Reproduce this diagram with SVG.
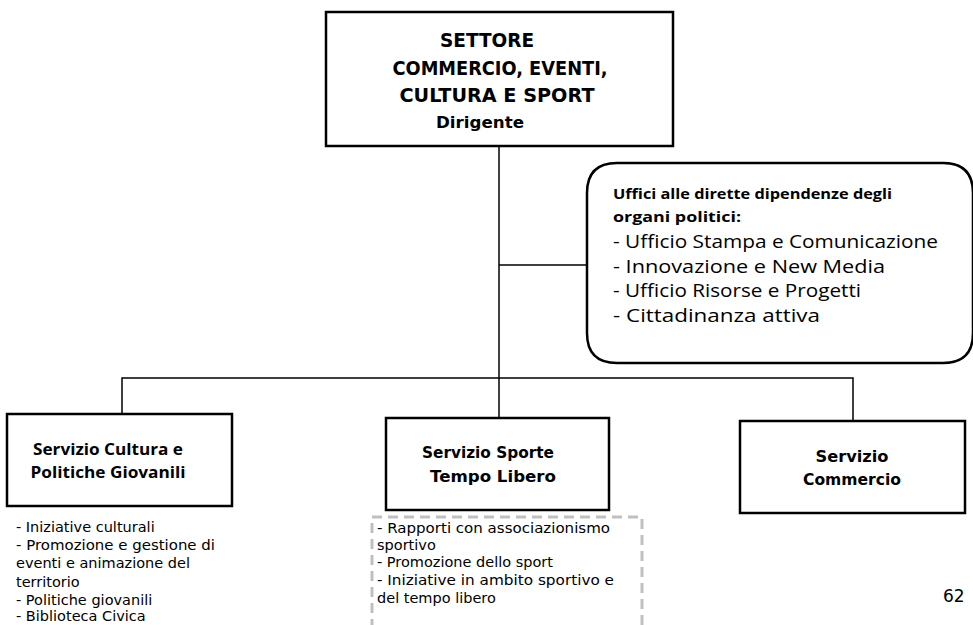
<svg xmlns="http://www.w3.org/2000/svg" width="973" height="625" viewBox="0 0 973 625">
<style>
.box{fill:#fff;stroke:#000;stroke-width:2.5}
.ln{fill:none;stroke:#000;stroke-width:1.5}
.t{font-family:"DejaVu Sans","Liberation Sans",sans-serif;fill:#000}
.tb{font-family:"DejaVu Sans","Liberation Sans",sans-serif;font-weight:bold;fill:#000}
.tc{font-family:"Open Sans","Noto Sans",sans-serif;fill:#000}
.tcb{font-family:"Open Sans","Noto Sans",sans-serif;font-weight:bold;fill:#000}
.list{font-family:"DejaVu Sans","Liberation Sans",sans-serif;font-size:14.5px;fill:#000}
</style>
<g id="connectors">
<path class="ln" d="M499,146 V418"/>
<path class="ln" d="M499,265 H587"/>
<path class="ln" d="M122,414 V378 H853 V421"/>
</g>
<g id="settore">
<rect class="box" x="326" y="12" width="347" height="134"/>
<text class="tb" font-size="20" text-anchor="middle" x="487" y="47" textLength="94" lengthAdjust="spacingAndGlyphs">SETTORE</text>
<text class="tb" font-size="20" text-anchor="middle" x="500" y="75" textLength="215" lengthAdjust="spacingAndGlyphs">COMMERCIO, EVENTI,</text>
<text class="tb" font-size="20" text-anchor="middle" x="497" y="102" textLength="195" lengthAdjust="spacingAndGlyphs">CULTURA E SPORT</text>
<text class="tb" font-size="16" text-anchor="middle" x="480" y="128" textLength="88" lengthAdjust="spacingAndGlyphs">Dirigente</text>
</g>
<g id="uffici">
<path class="box" d="M617,163 H943 Q973,163 973,193 V333 Q973,363 943,363 H617 Q587,363 587,333 V193 Q587,163 617,163 Z"/>
<text class="tcb" font-size="15" x="613" y="199" textLength="279" lengthAdjust="spacingAndGlyphs">Uffici alle dirette dipendenze degli</text>
<text class="tcb" font-size="15" x="613" y="222" textLength="128" lengthAdjust="spacingAndGlyphs">organi politici:</text>
<text class="tc" font-size="19" x="613" y="248" textLength="325" lengthAdjust="spacingAndGlyphs">- Ufficio Stampa e Comunicazione</text>
<text class="tc" font-size="19" x="613" y="273" textLength="272" lengthAdjust="spacingAndGlyphs">- Innovazione e New Media</text>
<text class="tc" font-size="19" x="613" y="297" textLength="248" lengthAdjust="spacingAndGlyphs">- Ufficio Risorse e Progetti</text>
<text class="tc" font-size="19" x="613" y="322" textLength="207" lengthAdjust="spacingAndGlyphs">- Cittadinanza attiva</text>
</g>
<g id="cultura">
<rect class="box" x="7" y="414" width="225" height="92"/>
<text class="tcb" font-size="16" text-anchor="middle" x="108" y="455" textLength="150" lengthAdjust="spacingAndGlyphs">Servizio Cultura e</text>
<text class="tcb" font-size="16" text-anchor="middle" x="108" y="478" textLength="155" lengthAdjust="spacingAndGlyphs">Politiche Giovanili</text>
<text class="list" x="16" y="532">- Iniziative culturali</text>
<text class="list" x="16" y="550" textLength="199" lengthAdjust="spacingAndGlyphs">- Promozione e gestione di</text>
<text class="list" x="16" y="568">eventi e animazione del</text>
<text class="list" x="16" y="587">territorio</text>
<text class="list" x="16" y="605">- Politiche giovanili</text>
<text class="list" x="16" y="621">- Biblioteca Civica</text>
</g>
<g id="sport">
<rect class="box" x="386" y="418" width="223" height="92"/>
<text class="tb" font-size="16" text-anchor="middle" x="488" y="458" textLength="132" lengthAdjust="spacingAndGlyphs">Servizio Sporte</text>
<text class="tb" font-size="16" text-anchor="middle" x="493" y="482" textLength="126" lengthAdjust="spacingAndGlyphs">Tempo Libero</text>
<rect x="372" y="517" width="270" height="130" fill="none" stroke="#c0c0c0" stroke-width="3" stroke-dasharray="10,6"/>
<text class="list" x="377" y="533" textLength="233" lengthAdjust="spacingAndGlyphs">- Rapporti con associazionismo</text>
<text class="list" x="377" y="550">sportivo</text>
<text class="list" x="377" y="567">- Promozione dello sport</text>
<text class="list" x="377" y="585" textLength="237" lengthAdjust="spacingAndGlyphs">- Iniziative in ambito sportivo e</text>
<text class="list" x="377" y="603">del tempo libero</text>
</g>
<g id="commercio">
<rect class="box" x="740" y="421" width="225" height="92"/>
<text class="tb" font-size="16" text-anchor="middle" x="852" y="462" textLength="73" lengthAdjust="spacingAndGlyphs">Servizio</text>
<text class="tb" font-size="16" text-anchor="middle" x="852" y="485" textLength="98" lengthAdjust="spacingAndGlyphs">Commercio</text>
</g>
<text class="t" font-size="17" x="943" y="602">62</text>
</svg>
